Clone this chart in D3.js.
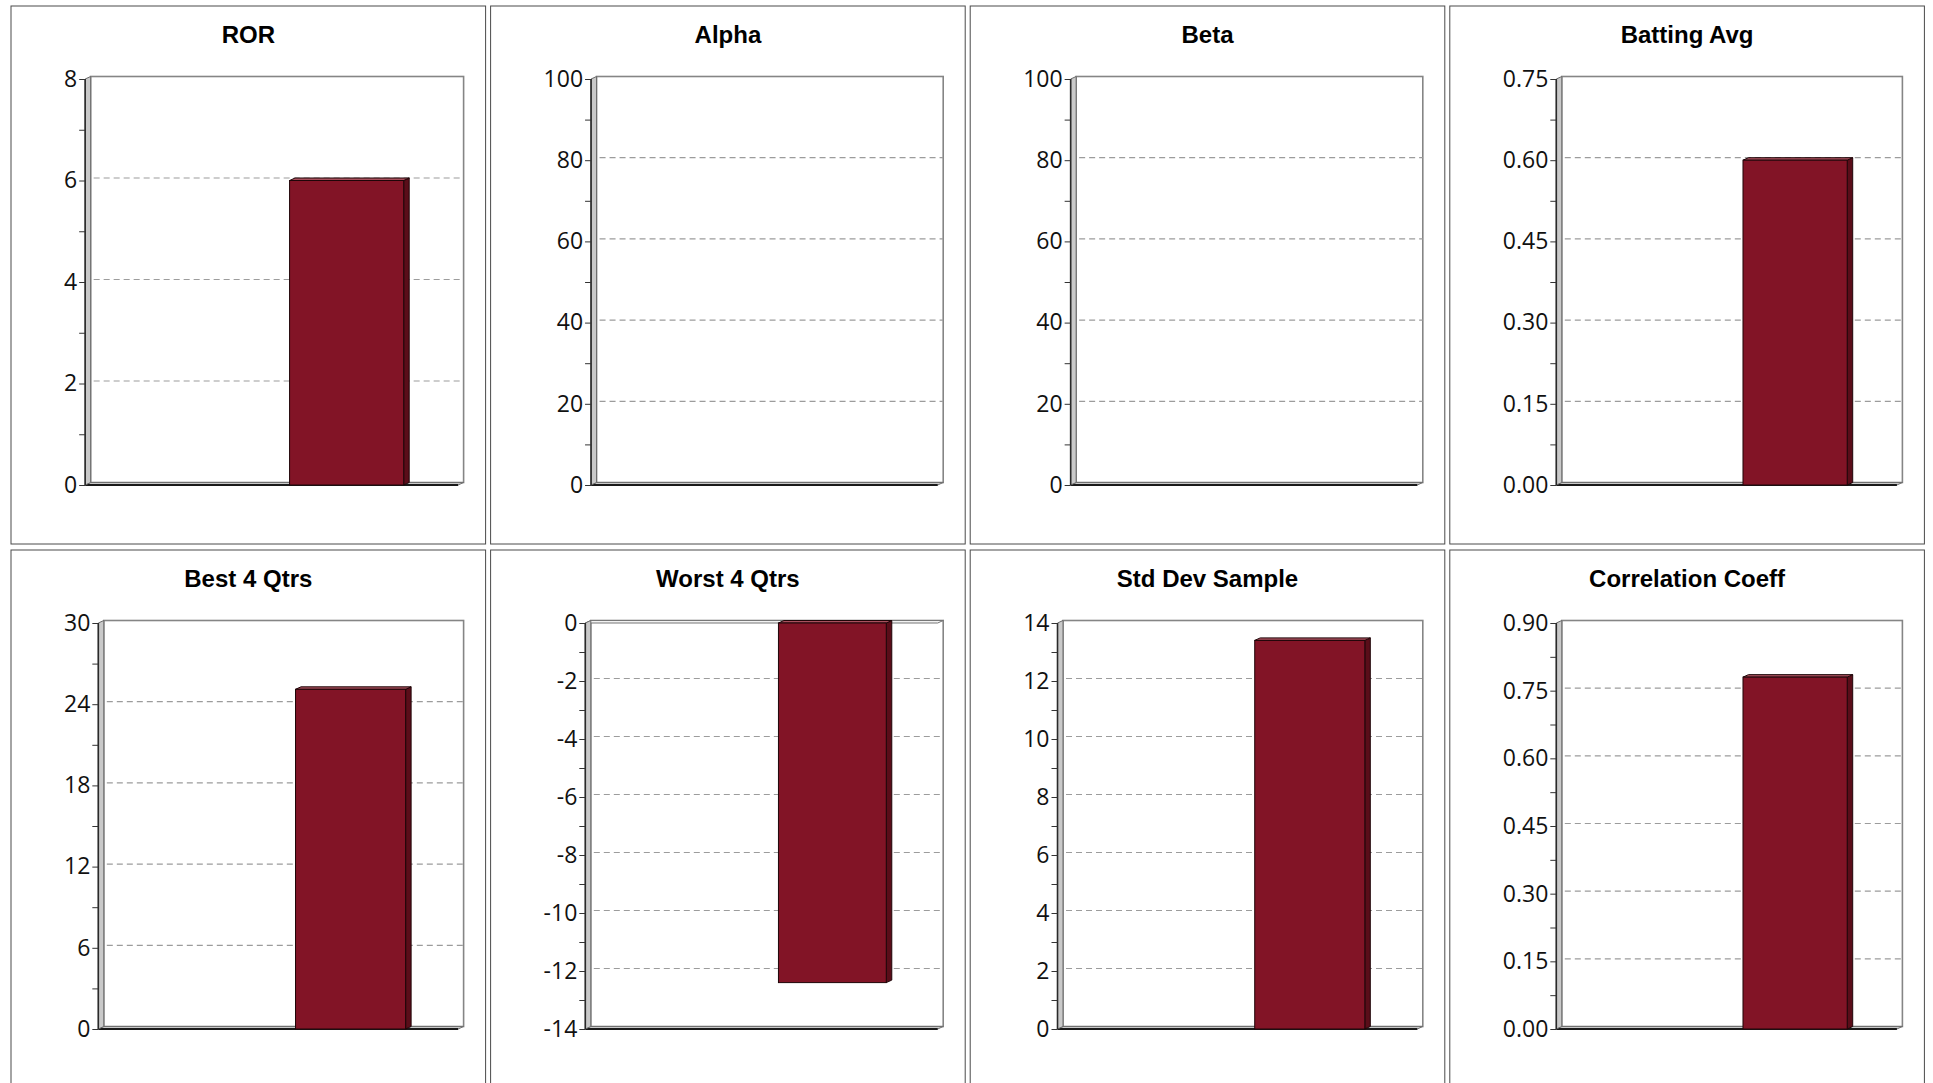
<!DOCTYPE html>
<html>
<head>
<meta charset="utf-8">
<script src="https://cdn.jsdelivr.net/npm/d3@7"></script>
<style>
  body { margin: 0; background: #fff; }
  svg { display: block; }
</style>
</head>
<body>
<svg id="chart" width="1933" height="1083"></svg>
<script>
// Statistic shown in each panel, left to right, top to bottom
const titles = ["ROR", "Alpha", "Beta", "Batting Avg", "Best 4 Qtrs", "Worst 4 Qtrs", "Std Dev Sample", "Correlation Coeff"];

// Two series per panel; only the fund has values
const seriesNames = ["Benchmark", "Fund"];
const benchmarkValues = [null, null, null, null, null, null, null, null];
const fundValues = [6.0, null, null, 0.60, 25.1, -12.4, 13.4, 0.78];

// Labelled value-axis ticks per panel
const yTicks = [
  [0, 2, 4, 6, 8],
  [0, 20, 40, 60, 80, 100],
  [0, 20, 40, 60, 80, 100],
  [0, 0.15, 0.30, 0.45, 0.60, 0.75],
  [0, 6, 12, 18, 24, 30],
  [-14, -12, -10, -8, -6, -4, -2, 0],
  [0, 2, 4, 6, 8, 10, 12, 14],
  [0, 0.15, 0.30, 0.45, 0.60, 0.75, 0.90]
];
const tickDecimals = [0, 0, 0, 2, 0, 0, 0, 2];

// Layout
const panelLeft0 = 11, panelStep = 479.6, panelW = 474.6, panelH = 538;
const rowTops = [6, 550];
const depthX = 5.5, depthY = 2.5;   // 3D offset of the back plane
const labelFont = "'Open Sans', 'DejaVu Sans', sans-serif";
const titleFont = "'Liberation Sans', Arial, sans-serif";

const colors = {
  front: "#821426",
  side: "#5a0d19",
  top: "#a9505d",
  barStroke: "#1f0508",
  wall: "#c9c9c9",
  grid: "#9c9c9c"
};

const svg = d3.select("#chart");

// Measure label widths so the axis sits just right of the widest label
const measurer = svg.append("text")
  .attr("font-family", labelFont).attr("font-size", 23)
  .attr("visibility", "hidden");
function textWidth(s) {
  measurer.text(s);
  return measurer.node().getComputedTextLength();
}

const pts = arr => arr.map(p => p.join(",")).join(" ");

titles.forEach((title, i) => {
  const col = i % 4, row = Math.floor(i / 4);
  const left = panelLeft0 + col * panelStep;
  const top = rowTops[row];
  const g = svg.append("g");

  // Panel frame
  g.append("rect")
    .attr("x", left).attr("y", top)
    .attr("width", panelW).attr("height", panelH)
    .attr("fill", "none").attr("stroke", "#4a4a4a").attr("stroke-width", 1);

  // Title
  g.append("text")
    .attr("x", left + panelW / 2).attr("y", top + 37)
    .attr("text-anchor", "middle")
    .attr("font-family", titleFont).attr("font-weight", "bold")
    .attr("font-size", 24).attr("fill", "#000")
    .text(title);

  const ticks = yTicks[i];
  const base = d3.format("." + tickDecimals[i] + "f");
  const fmt = v => base(v).replace("\u2212", "-");
  const maxLabel = d3.max(ticks, t => textWidth(fmt(t)));
  const axisX = left + 53 + maxLabel + 8;
  const backRight = left + panelW - 22;
  const plotTop = top + 73, plotBottom = top + 479;

  const y = d3.scaleLinear()
    .domain(d3.extent(ticks))
    .range([plotBottom, plotTop]);

  const x = d3.scaleBand()
    .domain(seriesNames)
    .range([axisX, backRight - depthX])
    .paddingInner(0)
    .paddingOuter(0.634)
    .align(0.624);

  const backLeft = axisX + depthX;

  // Back wall
  g.append("rect")
    .attr("x", backLeft).attr("y", plotTop - depthY)
    .attr("width", backRight - backLeft).attr("height", plotBottom - plotTop)
    .attr("fill", "#fff").attr("stroke", "#858585").attr("stroke-width", 1.6);

  // Dashed gridlines on the back wall
  const [yMin, yMax] = y.domain();
  g.append("g").selectAll("line")
    .data(ticks.filter(t => t !== yMin && t !== yMax))
    .join("line")
    .attr("x1", backLeft + 3).attr("x2", backRight)
    .attr("y1", d => y(d) - depthY).attr("y2", d => y(d) - depthY)
    .attr("stroke", colors.grid).attr("stroke-width", 1.2)
    .attr("stroke-dasharray", "6,4");

  // Floor
  g.append("polygon")
    .attr("points", pts([
      [axisX, plotBottom], [backLeft, plotBottom - depthY],
      [backRight, plotBottom - depthY], [backRight - depthX, plotBottom]
    ]))
    .attr("fill", colors.wall).attr("stroke", "#707070").attr("stroke-width", 1);
  g.append("line")
    .attr("x1", axisX).attr("x2", backRight - depthX)
    .attr("y1", plotBottom).attr("y2", plotBottom)
    .attr("stroke", "#1a1a1a").attr("stroke-width", 2);

  // Zero plane when the baseline is at the top of the range
  if (yMax === 0) {
    g.append("polygon")
      .attr("points", pts([
        [axisX, plotTop], [backLeft, plotTop - depthY],
        [backRight, plotTop - depthY], [backRight - depthX, plotTop]
      ]))
      .attr("fill", "#f2f2f2").attr("stroke", "#777").attr("stroke-width", 1);
  }

  // Side wall
  g.append("polygon")
    .attr("points", pts([
      [axisX, plotTop], [backLeft, plotTop - depthY],
      [backLeft, plotBottom - depthY], [axisX, plotBottom]
    ]))
    .attr("fill", colors.wall).attr("stroke", "#6a6a6a").attr("stroke-width", 1);
  g.append("line")
    .attr("x1", axisX).attr("x2", axisX)
    .attr("y1", plotTop).attr("y2", plotBottom)
    .attr("stroke", "#2a2a2a").attr("stroke-width", 1.6);

  // Minor ticks halfway between labelled ticks
  const minor = d3.pairs(ticks).map(([a, b]) => (a + b) / 2);
  const minorAxis = g.append("g")
    .attr("transform", `translate(${axisX},0)`)
    .call(d3.axisLeft(y).tickValues(minor).tickSize(6).tickSizeOuter(0).tickFormat(""));
  minorAxis.select(".domain").remove();
  minorAxis.selectAll(".tick line").attr("stroke", "#333");

  // Labelled ticks
  const majorAxis = g.append("g")
    .attr("transform", `translate(${axisX},0)`)
    .call(d3.axisLeft(y).tickValues(ticks).tickSize(6).tickSizeOuter(0)
      .tickPadding(2).tickFormat(fmt));
  majorAxis.select(".domain").remove();
  majorAxis.selectAll(".tick line").attr("stroke", "#333");
  majorAxis.selectAll(".tick text")
    .attr("font-family", labelFont).attr("font-size", 23)
    .attr("fill", "#111").attr("dy", "0.32em");

  // Bars with front, top and side faces
  const values = [benchmarkValues[i], fundValues[i]];
  const bars = seriesNames
    .map((s, k) => ({ series: s, value: values[k] }))
    .filter(d => d.value !== null);

  const bar = g.append("g").selectAll("g").data(bars).join("g");
  bar.each(function (d) {
    const bx = x(d.series), bw = x.bandwidth();
    const y0 = y(0), y1 = y(d.value);
    const t = Math.min(y0, y1), b = Math.max(y0, y1);
    const sel = d3.select(this);
    sel.append("polygon")
      .attr("points", pts([
        [bx + bw, t], [bx + bw + depthX, t - depthY],
        [bx + bw + depthX, b - depthY], [bx + bw, b]
      ]))
      .attr("fill", colors.side).attr("stroke", colors.barStroke).attr("stroke-width", 1);
    sel.append("polygon")
      .attr("points", pts([
        [bx, t], [bx + depthX, t - depthY],
        [bx + bw + depthX, t - depthY], [bx + bw, t]
      ]))
      .attr("fill", colors.top).attr("stroke", colors.barStroke).attr("stroke-width", 1);
    sel.append("rect")
      .attr("x", bx).attr("y", t)
      .attr("width", bw).attr("height", b - t)
      .attr("fill", colors.front).attr("stroke", colors.barStroke).attr("stroke-width", 1);
  });
});

measurer.remove();
</script>
</body>
</html>
